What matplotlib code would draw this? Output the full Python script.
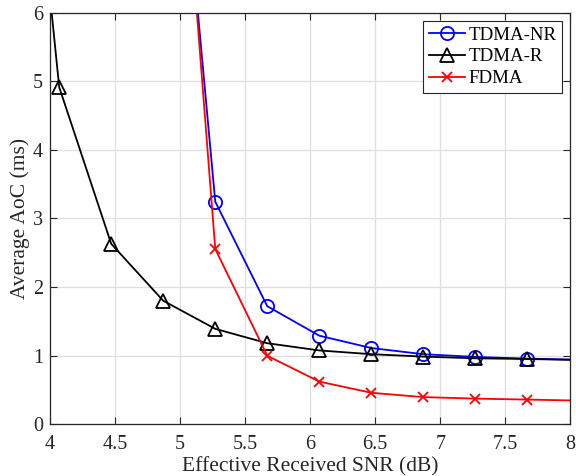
import matplotlib
matplotlib.use("Agg")
import matplotlib.pyplot as plt

plt.rcParams['font.family'] = ['Liberation Serif', 'DejaVu Serif']
plt.rcParams['mathtext.fontset'] = 'stix'

# SNR grid (dB); first/last points fall outside the visible axes
snr = [3.67, 4.07, 4.47, 4.87, 5.27, 5.67, 6.07, 6.47, 6.87, 7.27, 7.67, 8.07]
snr_nr = [4.87, 5.27, 5.67, 6.07, 6.47, 6.87, 7.27, 7.67, 8.07]

tdma_nr = [11.5, 3.245, 1.72, 1.29, 1.11, 1.02, 0.98, 0.955, 0.94]
tdma_r = [12.4, 4.915, 2.63, 1.80, 1.39, 1.18, 1.075, 1.02, 0.985, 0.96, 0.95, 0.935]
fdma = [12.3, 2.555, 0.997, 0.62, 0.457, 0.394, 0.372, 0.358, 0.343]

xticks = [4, 4.5, 5, 5.5, 6, 6.5, 7, 7.5, 8]
xtick_labels = ['4', '4.5', '5', '5.5', '6', '6.5', '7', '7.5', '8']
yticks = [0, 1, 2, 3, 4, 5, 6]

fig = plt.figure(figsize=(5.76, 4.76), dpi=100)
ax = fig.add_axes([0.087, 0.109, 0.903, 0.864])

ax.plot(snr_nr, tdma_nr, color='#0000ff', lw=1.3, marker='o', ms=9.5,
        mfc='none', mew=1.3, label='TDMA-NR')
ax.plot(snr, tdma_r, color='black', lw=1.3, marker='^', ms=10.5,
        mfc='none', mew=1.3, label='TDMA-R')
ax.plot(snr_nr, fdma, color='#ff0000', lw=1.3, marker='x', ms=7.5,
        mew=1.3, label='FDMA')

ax.set_xlim(4, 8)
ax.set_ylim(0, 6)
ax.set_xticks(xticks)
ax.set_xticklabels(xtick_labels)
ax.set_yticks(yticks)

tc = '#262626'
ax.grid(True, color='#dfdfdf', lw=0.9)
ax.set_axisbelow(True)
for s in ax.spines.values():
    s.set_color(tc)
    s.set_linewidth(0.9)
ax.tick_params(direction='in', top=True, right=True, length=5, width=0.8,
               colors=tc, labelsize=14.5)
ax.tick_params(axis='x', pad=8)
ax.tick_params(axis='y', pad=5)

ax.set_xlabel('Effective Received SNR (dB)', fontsize=15.5, color=tc, labelpad=2)
ax.set_ylabel('Average AoC (ms)', fontsize=15.5, color=tc)
ax.yaxis.set_label_coords(-0.039, 0.5)

leg = ax.legend(loc='upper right', fontsize=13.6, frameon=True, fancybox=False,
                edgecolor=tc, framealpha=1, borderpad=0.3, labelspacing=0.24,
                handlelength=1.9, handletextpad=0.2, borderaxespad=0.42)
leg.get_frame().set_linewidth(0.8)

fig.savefig('out.png', dpi=100)
